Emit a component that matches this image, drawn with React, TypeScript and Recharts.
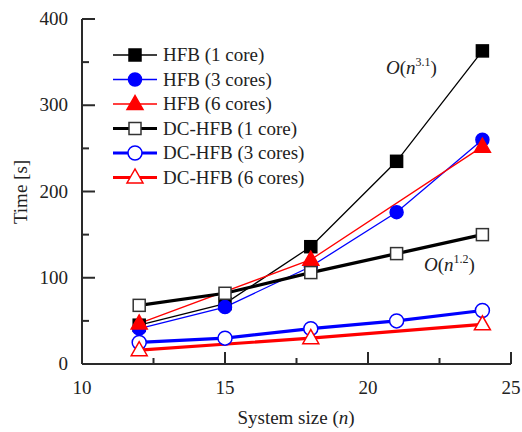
import { LineChart, Line, XAxis, YAxis, Legend } from "recharts"

// system sizes n
const sizes = [12, 15, 18, 21, 24]
const sparseSizes = [12, 18, 24]

// run times [s]
const hfb1 = [45, 70, 136, 235, 363]
const hfb3 = [41, 66, 113, 176, 260]
const hfb6 = [47, 121, 252]
const dc1 = [68, 82, 106, 128, 150]
const dc3 = [25, 30, 41, 50, 62]
const dc6 = [16, 30, 46]

const xTicks = [10, 12.5, 15, 17.5, 20, 22.5, 25]
const yTicks = [0, 50, 100, 150, 200, 250, 300, 350, 400]

const FONT = "'Liberation Serif', 'Times New Roman', serif"
const AXIS = "#2a2a2a"
const txt: React.CSSProperties = { fontFamily: FONT, fontSize: 19, fill: "#222" }

const toRows = (xs: number[], ys: number[]) => xs.map((n, i) => ({ n, t: ys[i] }))

type Shape = "square" | "circle" | "triangle"

const series = [
    { name: "HFB (1 core)", rows: toRows(sizes, hfb1), color: "#000000", shape: "square" as Shape, filled: true, width: 1.3 },
    { name: "HFB (3 cores)", rows: toRows(sizes, hfb3), color: "#0000ff", shape: "circle" as Shape, filled: true, width: 1.3 },
    { name: "HFB (6 cores)", rows: toRows(sparseSizes, hfb6), color: "#ff0000", shape: "triangle" as Shape, filled: true, width: 1.3 },
    { name: "DC-HFB (1 core)", rows: toRows(sizes, dc1), color: "#000000", shape: "square" as Shape, filled: false, width: 3.2 },
    { name: "DC-HFB (3 cores)", rows: toRows(sizes, dc3), color: "#0000ff", shape: "circle" as Shape, filled: false, width: 3.2 },
    { name: "DC-HFB (6 cores)", rows: toRows(sparseSizes, dc6), color: "#ff0000", shape: "triangle" as Shape, filled: false, width: 3.2 },
]

function Marker({ cx, cy, shape, color, filled }: { cx: number; cy: number; shape: Shape; color: string; filled: boolean }) {
    const fill = filled ? color : "#ffffff"
    if (shape === "square") {
        return <rect x={cx - 6} y={cy - 6} width={12} height={12} fill={fill} stroke={filled ? color : "#333"} strokeWidth={1.5} />
    }
    if (shape === "circle") {
        return <circle cx={cx} cy={cy} r={filled ? 6.5 : 7} fill={fill} stroke={color} strokeWidth={1.5} />
    }
    return (
        <polygon
            points={`${cx},${cy - 8.5} ${cx - 8},${cy + 5.5} ${cx + 8},${cy + 5.5}`}
            fill={fill}
            stroke={color}
            strokeWidth={1.5}
        />
    )
}

function BottomTick(props: any) {
    const { x, y, payload } = props
    const major = payload.value % 5 === 0
    return (
        <g>
            <line x1={x} x2={x} y1={y} y2={y - (major ? 12 : 6)} stroke={AXIS} strokeWidth={2} />
            {major && (
                <text x={x} y={y + 30} textAnchor="middle" style={txt}>
                    {payload.value}
                </text>
            )}
        </g>
    )
}

function TopTick(props: any) {
    const { x, y, payload } = props
    const major = payload.value % 5 === 0
    return <line x1={x} x2={x} y1={y} y2={y + (major ? 12 : 6)} stroke={AXIS} strokeWidth={2} />
}

function LeftTick(props: any) {
    const { x, y, payload } = props
    const major = payload.value % 100 === 0
    return (
        <g>
            <line x1={x} x2={x + (major ? 13 : 7)} y1={y} y2={y} stroke={AXIS} strokeWidth={2} />
            {major && (
                <text x={x - 14} y={y + 6} textAnchor="end" style={txt}>
                    {payload.value}
                </text>
            )}
        </g>
    )
}

function RightTick(props: any) {
    const { x, y, payload } = props
    const major = payload.value % 100 === 0
    return <line x1={x} x2={x - (major ? 13 : 7)} y1={y} y2={y} stroke={AXIS} strokeWidth={2} />
}

function LegendBox() {
    return (
        <svg width={220} height={150}>
            {series.map((s, i) => {
                const y = 15 + i * 24.5
                return (
                    <g key={s.name}>
                        <line x1={8} x2={52} y1={y} y2={y} stroke={s.color} strokeWidth={s.width} />
                        <Marker cx={30} cy={y} shape={s.shape} color={s.color} filled={s.filled} />
                        <text x={58} y={y + 6} style={txt}>
                            {s.name}
                        </text>
                    </g>
                )
            })}
        </svg>
    )
}

const noteStyle: React.CSSProperties = {
    position: "absolute",
    fontFamily: FONT,
    fontSize: 19,
    lineHeight: "19px",
    color: "#222",
    whiteSpace: "nowrap",
}
const supStyle: React.CSSProperties = { fontSize: 12, position: "relative", top: -8 }

export default function App() {
    return (
        <div style={{ position: "absolute", left: 0, top: 0, width: 522, height: 432, background: "#fff" }}>
            <LineChart width={522} height={432} margin={{ top: 19, right: 11, bottom: 0, left: 0 }}>
                <XAxis
                    xAxisId="b"
                    dataKey="n"
                    type="number"
                    domain={[10, 25]}
                    ticks={xTicks}
                    interval={0}
                    height={68}
                    tickSize={0}
                    tickMargin={0}
                    tickLine={false}
                    axisLine={{ stroke: AXIS, strokeWidth: 2 }}
                    tick={<BottomTick />}
                    allowDataOverflow
                    label={{
                        content: () => (
                            <text x={296} y={424} textAnchor="middle" style={txt}>
                                System size (<tspan fontStyle="italic">n</tspan>)
                            </text>
                        ),
                    }}
                />
                <XAxis
                    xAxisId="t"
                    orientation="top"
                    dataKey="n"
                    type="number"
                    domain={[10, 25]}
                    ticks={xTicks}
                    interval={0}
                    height={0}
                    tickSize={0}
                    tickMargin={0}
                    tickLine={false}
                    axisLine={{ stroke: AXIS, strokeWidth: 2 }}
                    tick={<TopTick />}
                />
                <YAxis
                    yAxisId="l"
                    type="number"
                    domain={[0, 400]}
                    ticks={yTicks}
                    interval={0}
                    width={82}
                    tickSize={0}
                    tickMargin={0}
                    tickLine={false}
                    axisLine={{ stroke: AXIS, strokeWidth: 2 }}
                    tick={<LeftTick />}
                    allowDataOverflow
                    label={{
                        content: () => (
                            <text x={27} y={192} transform="rotate(-90 27 192)" textAnchor="middle" style={txt}>
                                Time [s]
                            </text>
                        ),
                    }}
                />
                <YAxis
                    yAxisId="r"
                    orientation="right"
                    type="number"
                    domain={[0, 400]}
                    ticks={yTicks}
                    interval={0}
                    width={0}
                    tickSize={0}
                    tickMargin={0}
                    tickLine={false}
                    axisLine={{ stroke: AXIS, strokeWidth: 2 }}
                    tick={<RightTick />}
                />
                {series.map((s) => (
                    <Line
                        key={s.name}
                        xAxisId="b"
                        yAxisId="l"
                        data={s.rows}
                        dataKey="t"
                        name={s.name}
                        type="linear"
                        stroke={s.color}
                        strokeWidth={s.width}
                        isAnimationActive={false}
                        dot={(p: any) => (
                            <Marker key={`${s.name}-${p.index}`} cx={p.cx} cy={p.cy} shape={s.shape} color={s.color} filled={s.filled} />
                        )}
                        activeDot={false}
                    />
                ))}
                <Legend
                    layout="vertical"
                    align="center"
                    verticalAlign="middle"
                    content={() => <LegendBox />}
                    wrapperStyle={{ left: 105, top: 40, width: 220, height: 150 }}
                />
            </LineChart>
            <div style={{ ...noteStyle, left: 386, top: 58 }}>
                <i>O</i>(<i>n</i>
                <span style={supStyle}>3.1</span>)
            </div>
            <div style={{ ...noteStyle, left: 424, top: 255 }}>
                <i>O</i>(<i>n</i>
                <span style={supStyle}>1.2</span>)
            </div>
        </div>
    )
}
